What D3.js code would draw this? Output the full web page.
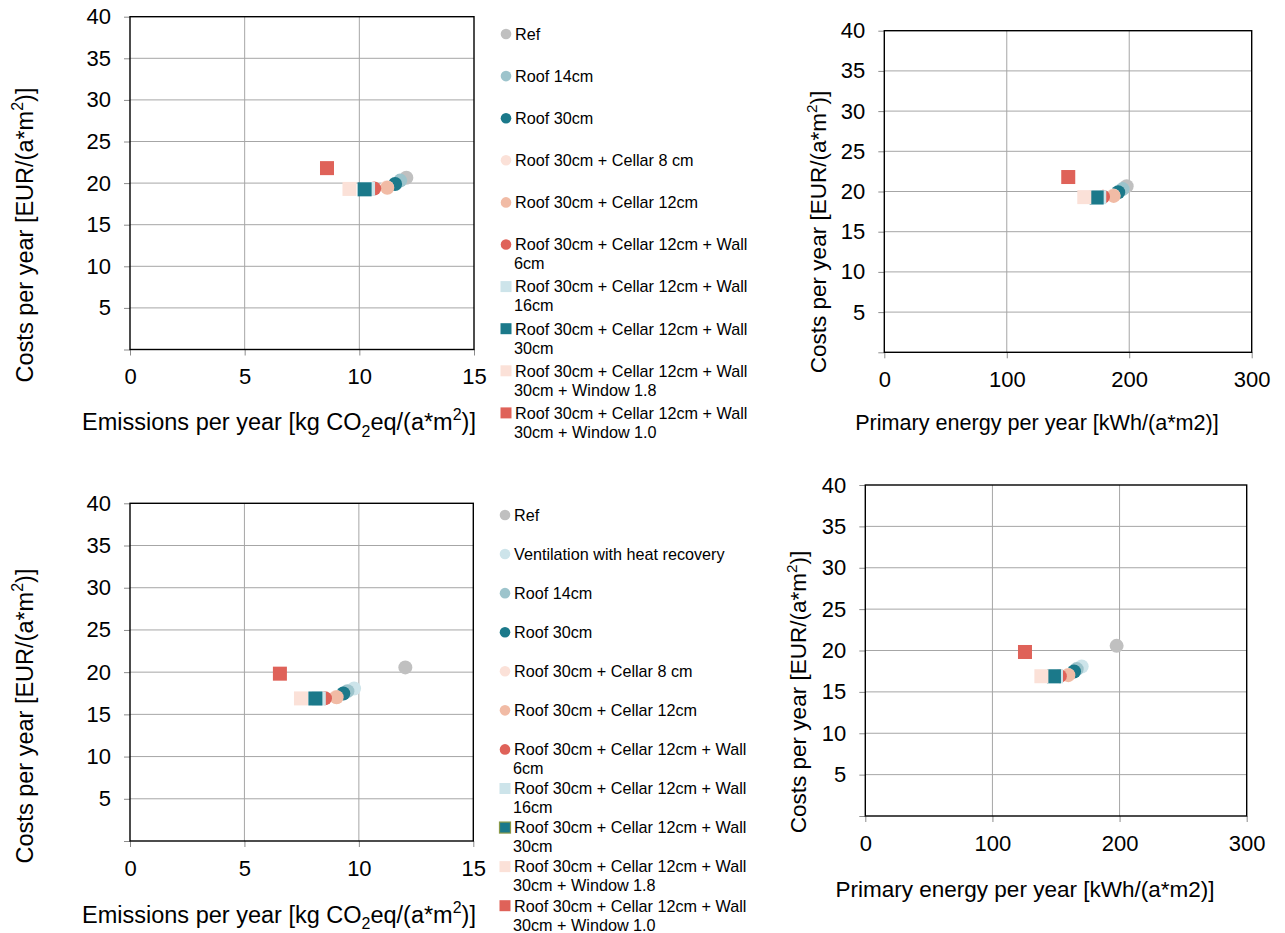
<!DOCTYPE html>
<html>
<head>
<meta charset="utf-8">
<script src="https://cdn.jsdelivr.net/npm/d3@7"></script>
<style>
  html, body { margin: 0; padding: 0; background: #ffffff; }
  svg { display: block; }
</style>
</head>
<body>
<svg id="chart" width="1285" height="933"></svg>
<script>
// ---------------- DATA ----------------
const topSeries = [
  "Ref", "Roof 14cm", "Roof 30cm", "Roof 30cm + Cellar 8 cm", "Roof 30cm + Cellar 12cm",
  "Roof 30cm + Cellar 12cm + Wall\n6cm", "Roof 30cm + Cellar 12cm + Wall\n16cm",
  "Roof 30cm + Cellar 12cm + Wall\n30cm", "Roof 30cm + Cellar 12cm + Wall\n30cm + Window 1.8",
  "Roof 30cm + Cellar 12cm + Wall\n30cm + Window 1.0"
];
const topShapes = ["circle","circle","circle","circle","circle","circle","square","square","square","square"];
const topColors = ["#c0c0c0","#9dc4cc","#1b798a","#fbe1d8","#f1bba5","#df6259","#cde4ea","#1b798a","#fbe1d8","#df6259"];
const topEmissions = [12.05, 11.78, 11.56, 11.2, 11.22, 10.65, 10.38, 10.23, 9.57, 8.59];
const topPrimary   = [197.9, 194.6, 191.0, 187.0, 187.3, 178.6, 175.5, 173.4, 163.3, 150.2];
const topCosts     = [20.65, 20.3, 19.9, 19.5, 19.45, 19.35, 19.3, 19.25, 19.3, 21.8];

const bottomSeries = [
  "Ref", "Ventilation with heat recovery", "Roof 14cm", "Roof 30cm", "Roof 30cm + Cellar 8 cm",
  "Roof 30cm + Cellar 12cm", "Roof 30cm + Cellar 12cm + Wall\n6cm", "Roof 30cm + Cellar 12cm + Wall\n16cm",
  "Roof 30cm + Cellar 12cm + Wall\n30cm", "Roof 30cm + Cellar 12cm + Wall\n30cm + Window 1.8",
  "Roof 30cm + Cellar 12cm + Wall\n30cm + Window 1.0"
];
const bottomShapes = ["circle","circle","circle","circle","circle","circle","circle","square","square","square","square"];
const bottomColors = ["#c0c0c0","#cde4ea","#9dc4cc","#1b798a","#fbe1d8","#f1bba5","#df6259","#cde4ea","#1b798a","#fbe1d8","#df6259"];
const bottomEmissions = [12.03, 9.79, 9.5, 9.32, 9.0, 9.03, 8.52, 8.25, 8.1, 7.47, 6.55];
const bottomPrimary   = [197.7, 170.2, 166.3, 164.2, 159.5, 159.7, 153.0, 150.0, 148.4, 138.5, 125.6];
const bottomCosts     = [20.56, 18.07, 17.75, 17.47, 17.05, 17.02, 16.9, 16.88, 16.88, 16.89, 19.82];

const costTicks = [0, 5, 10, 15, 20, 25, 30, 35, 40];
const emissionTicks = [0, 5, 10, 15];
const primaryTicks = [0, 100, 200, 300];

const costTitle = [{t:"Costs per year [EUR/(a*m"},{t:"2",s:"sup"},{t:")]"}];
const emissionTitle = [{t:"Emissions per year [kg CO"},{t:"2",s:"sub"},{t:"eq/(a*m"},{t:"2",s:"sup"},{t:")]"}];
const primaryTitle = [{t:"Primary energy per year [kWh/(a*m2)]"}];

// ---------------- DRAWING ----------------
const FONT = "'Liberation Sans', Arial, Helvetica, sans-serif";
const svg = d3.select("#chart");

function richText(sel, parts, fs) {
  let back = 0;
  parts.forEach(p => {
    const ts = sel.append("tspan");
    if (p.s === "sup") {
      ts.attr("dy", -0.42 * fs + back).attr("font-size", 0.68 * fs);
      back = 0.42 * fs;
    } else if (p.s === "sub") {
      ts.attr("dy", 0.28 * fs + back).attr("font-size", 0.68 * fs);
      back = -0.28 * fs;
    } else {
      if (back !== 0) ts.attr("dy", back);
      back = 0;
    }
    ts.text(p.t);
  });
}

function panel(cfg) {
  const g = svg.append("g");
  const x = d3.scaleLinear().domain([cfg.xTicks[0], cfg.xTicks[cfg.xTicks.length-1]]).range([cfg.x0, cfg.x1]);
  const y = d3.scaleLinear().domain([0, 40]).range([cfg.y0, cfg.y1]);

  // gridlines
  g.append("g").selectAll("line").data(costTicks.slice(1, -1)).join("line")
    .attr("x1", cfg.x0).attr("x2", cfg.x1).attr("y1", d => y(d)).attr("y2", d => y(d))
    .attr("stroke", "#a6a6a6").attr("stroke-width", 1);
  g.append("g").selectAll("line").data(cfg.xTicks.slice(1, -1)).join("line")
    .attr("y1", cfg.y0).attr("y2", cfg.y1).attr("x1", d => x(d)).attr("x2", d => x(d))
    .attr("stroke", "#a6a6a6").attr("stroke-width", 1);

  // axes
  const ya = g.append("g").attr("transform", `translate(${cfg.x0},0)`)
    .call(d3.axisLeft(y).tickValues(costTicks).tickSize(6).tickPadding(13).tickFormat(d => d === 0 ? "" : d));
  const xa = g.append("g").attr("transform", `translate(0,${cfg.y0})`)
    .call(d3.axisBottom(x).tickValues(cfg.xTicks).tickSize(6).tickPadding(13));
  [ya, xa].forEach(a => {
    a.select(".domain").remove();
    a.selectAll(".tick line").attr("stroke", "#8c8c8c");
    a.selectAll("text").attr("font-family", FONT).attr("font-size", 22).attr("fill", "#000");
  });
  ya.selectAll(".tick").filter(d => d === 0).select("text").remove();

  // plot border
  g.append("rect").attr("x", cfg.x0).attr("y", cfg.y1)
    .attr("width", cfg.x1 - cfg.x0).attr("height", cfg.y0 - cfg.y1)
    .attr("fill", "none").attr("stroke", "#000").attr("stroke-width", 1.4);

  // points
  const pts = cfg.xs.map((v, i) => ({x: v, y: cfg.ys[i], shape: cfg.shapes[i], color: cfg.colors[i]}));
  const mg = g.append("g");
  pts.forEach(p => {
    if (p.shape === "circle") {
      mg.append("circle").attr("cx", x(p.x)).attr("cy", y(p.y)).attr("r", 7).attr("fill", p.color);
    } else {
      mg.append("rect").attr("x", x(p.x) - 7).attr("y", y(p.y) - 7).attr("width", 14).attr("height", 14).attr("fill", p.color);
    }
  });

  // titles
  const yt = g.append("text").attr("transform", `translate(${cfg.ytX},${cfg.ytY}) rotate(-90)`)
    .attr("text-anchor", "middle").attr("font-family", FONT).attr("font-size", cfg.ytFs).attr("fill", "#000");
  richText(yt, costTitle, cfg.ytFs);
  const xt = g.append("text").attr("x", cfg.xtX).attr("y", cfg.xtY)
    .attr("text-anchor", "middle").attr("font-family", FONT).attr("font-size", cfg.xtFs).attr("fill", "#000");
  richText(xt, cfg.xTitle, cfg.xtFs);
}

function legend(cfg) {
  const g = svg.append("g");
  cfg.labels.forEach((lab, i) => {
    const cy = cfg.y0 + i * cfg.step;
    if (cfg.shapes[i] === "circle") {
      g.append("circle").attr("cx", cfg.mx).attr("cy", cy).attr("r", 5.3).attr("fill", cfg.colors[i]);
    } else {
      const r = g.append("rect").attr("x", cfg.mx - 5.5).attr("y", cy - 5.5).attr("width", 11).attr("height", 11).attr("fill", cfg.colors[i]);
      if (cfg.outline && cfg.outline[i]) r.attr("stroke", cfg.outline[i]).attr("stroke-width", 1.2);
    }
    const t = g.append("text").attr("x", cfg.tx).attr("y", cy).attr("font-family", FONT)
      .attr("font-size", 16.2).attr("fill", "#000");
    lab.split("\n").forEach((line, k) => {
      t.append("tspan").attr("x", k === 0 ? cfg.tx : cfg.tx - 1).attr("dy", k === 0 ? "0.36em" : 19).text(line);
    });
  });
}

panel({x0: 130, x1: 474, y0: 349.5, y1: 16.7, xTicks: emissionTicks,
  xs: topEmissions, ys: topCosts, shapes: topShapes, colors: topColors,
  ytX: 33, ytY: 235, ytFs: 23.5, xtX: 279, xtY: 430, xtFs: 23.5, xTitle: emissionTitle});
panel({x0: 884.3, x1: 1251.7, y0: 352.3, y1: 30.7, xTicks: primaryTicks,
  xs: topPrimary, ys: topCosts, shapes: topShapes, colors: topColors,
  ytX: 826, ytY: 232, ytFs: 22.5, xtX: 1037, xtY: 430, xtFs: 21.6, xTitle: primaryTitle});
panel({x0: 130, x1: 473.3, y0: 841, y1: 503.3, xTicks: emissionTicks,
  xs: bottomEmissions, ys: bottomCosts, shapes: bottomShapes, colors: bottomColors,
  ytX: 33, ytY: 716, ytFs: 23.5, xtX: 279, xtY: 922.7, xtFs: 23.5, xTitle: emissionTitle});
panel({x0: 865.3, x1: 1246.7, y0: 816, y1: 485, xTicks: primaryTicks,
  xs: bottomPrimary, ys: bottomCosts, shapes: bottomShapes, colors: bottomColors,
  ytX: 806, ytY: 692, ytFs: 22.5, xtX: 1025, xtY: 896.7, xtFs: 22.5, xTitle: primaryTitle});

legend({labels: topSeries, shapes: topShapes, colors: topColors, mx: 506, tx: 515, y0: 34, step: 42.1});
legend({labels: bottomSeries, shapes: bottomShapes, colors: bottomColors, mx: 505, tx: 514, y0: 515, step: 39.07,
  outline: [null,null,null,null,null,null,null,null,"#8a9a4a",null,null]});
</script>
</body>
</html>
